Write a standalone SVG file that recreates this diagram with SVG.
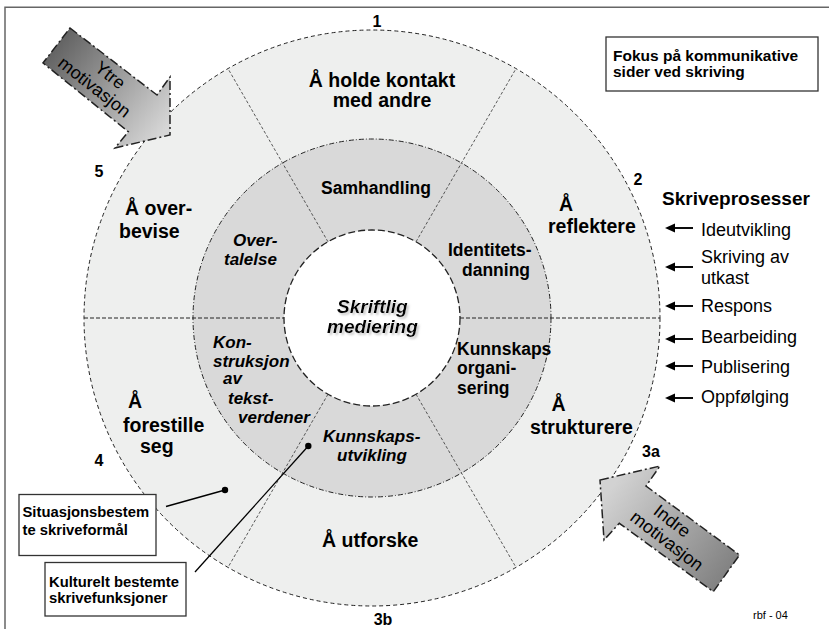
<svg xmlns="http://www.w3.org/2000/svg" xmlns:xlink="http://www.w3.org/1999/xlink" width="829" height="629" viewBox="0 0 829 629">
<style>
text{font-family:"Liberation Sans",Arial,sans-serif;fill:#000}
.o{font-size:19.5px;font-weight:bold}
.m{font-size:17.5px;font-weight:bold}
.mi{font-size:17px;font-weight:bold;font-style:italic}
.n{font-size:16px;font-weight:bold;text-anchor:middle}
.p{font-size:18px}
.b{font-size:14.8px;font-weight:bold}
.c{font-size:19px;font-weight:bold;font-style:italic}
.f{font-size:15.5px;font-weight:bold}
.box{fill:#fff;stroke:#333;stroke-width:1.3}
.rad{stroke:#333;stroke-width:0.8;stroke-dasharray:3 2;fill:none}
.hz{stroke:#222;stroke-width:1;stroke-dasharray:4 2;fill:none}
.ar{stroke:#222;stroke-width:1.5;stroke-dasharray:9 3 2 3}
.mo{font-size:18px}
</style>
<defs>
<linearGradient id="g1" gradientUnits="userSpaceOnUse" x1="55" y1="45" x2="165" y2="130">
<stop offset="0" stop-color="#626262"/><stop offset="1" stop-color="#d6d6d6"/>
</linearGradient>
<linearGradient id="g2" gradientUnits="userSpaceOnUse" x1="610" y1="490" x2="728" y2="578">
<stop offset="0" stop-color="#d2d2d2"/><stop offset="1" stop-color="#808080"/>
</linearGradient>
<filter id="shadow" x="-10%" y="-20%" width="125%" height="150%">
<feOffset in="SourceAlpha" dx="2" dy="2" result="off"/>
<feGaussianBlur in="off" stdDeviation="0.9" result="bl"/>
<feColorMatrix in="bl" type="matrix" values="0 0 0 0 0.55  0 0 0 0 0.55  0 0 0 0 0.55  0 0 0 0.9 0" result="sh"/>
<feMerge><feMergeNode in="sh"/><feMergeNode in="SourceGraphic"/></feMerge>
</filter>
<g id="la"><line x1="7" y1="0" x2="28" y2="0" stroke="#000" stroke-width="1.9"/><polygon points="0,0 10,-4.5 10,4.5" fill="#000"/></g>
</defs>
<rect width="829" height="629" fill="#fff"/>
<path d="M5,629 V7.3 H829" fill="none" stroke="#666" stroke-width="1.5"/>

<g id="rings">
<circle cx="372" cy="318" r="288" fill="#eeefee" stroke="#222" stroke-width="1" stroke-dasharray="4 3"/>
<circle cx="372" cy="318" r="179" fill="#d9d9d9" stroke="#222" stroke-width="1" stroke-dasharray="5 2 1 2"/>
<circle cx="372" cy="318" r="88" fill="#fff" stroke="#222" stroke-width="1.3" stroke-dasharray="7 3"/>
<line class="rad" x1="416" y1="241.8" x2="516" y2="68.6"/>
<line class="rad" x1="328" y1="241.8" x2="228" y2="68.6"/>
<line class="rad" x1="328" y1="394.2" x2="228" y2="567.4"/>
<line class="rad" x1="416" y1="394.2" x2="516" y2="567.4"/>
<line class="hz" x1="84" y1="318" x2="284" y2="318"/>
<line class="hz" x1="460" y1="318" x2="660" y2="318"/>
</g>

<g id="seg-kontakt"><text class="o" x="382" y="86.5" text-anchor="middle">Å holde kontakt</text><text class="o" x="382" y="107" text-anchor="middle">med andre</text></g>
<g id="seg-reflektere"><text class="o" x="559" y="210.5">Å</text><text class="o" x="548" y="233.3">reflektere</text></g>
<g id="seg-strukturere"><text class="o" x="551.5" y="410.7">Å</text><text class="o" x="530" y="434">strukturere</text></g>
<g id="seg-utforske"><text class="o" x="322" y="546.7">Å utforske</text></g>
<g id="seg-forestille"><text class="o" x="128" y="408.3">Å</text><text class="o" x="123" y="432">forestille</text><text class="o" x="140" y="453">seg</text></g>
<g id="seg-overbevise"><text class="o" x="125" y="215">Å over-</text><text class="o" x="119" y="237.5">bevise</text></g>

<g id="mid-samhandling"><text class="m" x="321" y="194">Samhandling</text></g>
<g id="mid-identitet"><text class="m" x="448" y="256">Identitets-</text><text class="m" x="462" y="275.5">danning</text></g>
<g id="mid-kunnskapsorg"><text class="m" x="457" y="355">Kunnskaps</text><text class="m" x="457" y="374">organi-</text><text class="m" x="457" y="394">sering</text></g>
<g id="mid-kunnskapsutv"><text class="mi" x="323" y="442">Kunnskaps-</text><text class="mi" x="337" y="461">utvikling</text></g>
<g id="mid-konstruksjon"><text class="mi" x="213" y="348">Kon-</text><text class="mi" x="213" y="366.5">struksjon</text><text class="mi" x="223" y="384">av</text><text class="mi" x="228" y="404">tekst-</text><text class="mi" x="238" y="423">verdener</text></g>
<g id="mid-overtalelse"><text class="mi" x="233" y="245.5">Over-</text><text class="mi" x="224" y="265">talelse</text></g>

<g id="center" filter="url(#shadow)">
<text class="c" x="337" y="312.5">Skriftlig</text><text class="c" x="327" y="333">mediering</text>
</g>

<g id="numbers">
<text class="n" x="377" y="27">1</text>
<text class="n" x="638" y="185">2</text>
<text class="n" x="651" y="457">3a</text>
<text class="n" x="383" y="625">3b</text>
<text class="n" x="99" y="466">4</text>
<text class="n" x="99" y="177">5</text>
</g>

<g id="ytre-motivasjon">
<polygon class="ar" fill="url(#g1)" points="70,28 157,95 170,77 170,135 115,148 128.3,131.7 43,63"/>
<g transform="translate(100,80) rotate(38)"><text class="mo" x="5" y="-4" text-anchor="middle">Ytre</text><text class="mo" x="0" y="15" text-anchor="middle">motivasjon</text></g>
</g>
<g id="indre-motivasjon">
<polygon class="ar" fill="url(#g2)" points="600,480 660,466 646,486 739.5,555 713.3,591.7 619.3,523.3 604,540"/>
<g transform="translate(670,532) rotate(37.5)"><text class="mo" x="-5" y="-4" text-anchor="middle">Indre</text><text class="mo" x="3" y="15" text-anchor="middle">motivasjon</text></g>
</g>

<g id="fokus"><rect class="box" x="606" y="37" width="212" height="54"/><text class="f" x="613" y="61">Fokus på kommunikative</text><text class="f" x="613" y="77">sider ved skriving</text></g>

<g id="skriveprosesser">
<text x="662" y="205" style="font-size:19px;font-weight:bold">Skriveprosesser</text>
<text class="p" x="701" y="235.5">Ideutvikling</text>
<text class="p" x="701" y="262.5">Skriving av</text>
<text class="p" x="701" y="283.5">utkast</text>
<text class="p" x="701" y="312.3">Respons</text>
<text class="p" x="701" y="343.3">Bearbeiding</text>
<text class="p" x="701" y="373.3">Publisering</text>
<text class="p" x="701" y="403.3">Oppfølging</text>
</g>

<g id="box-situasjon"><rect class="box" x="19" y="494.5" width="137" height="61"/><text class="b" x="22.5" y="517">Situasjonsbestem</text><text class="b" x="22.5" y="535">te skriveformål</text></g>
<g id="box-kulturelt"><rect class="box" x="45" y="562.5" width="141" height="53.5"/><text class="b" x="49" y="586.5">Kulturelt bestemte</text><text class="b" x="49" y="603">skrivefunksjoner</text></g>

<g id="connectors">
<line x1="166" y1="506.5" x2="225" y2="490" stroke="#000" stroke-width="1.3"/>
<circle cx="225" cy="490" r="3.2" fill="#000"/>
<line x1="195" y1="572" x2="308.3" y2="446" stroke="#000" stroke-width="1.3"/>
<circle cx="308.3" cy="446" r="3.2" fill="#000"/>
<use xlink:href="#la" x="665" y="228"/>
<use xlink:href="#la" x="665" y="267"/>
<use xlink:href="#la" x="665" y="306"/>
<use xlink:href="#la" x="665" y="339"/>
<use xlink:href="#la" x="665" y="366"/>
<use xlink:href="#la" x="665" y="398"/>
</g>

<text x="753" y="619" style="font-size:11px">rbf - 04</text>
</svg>
